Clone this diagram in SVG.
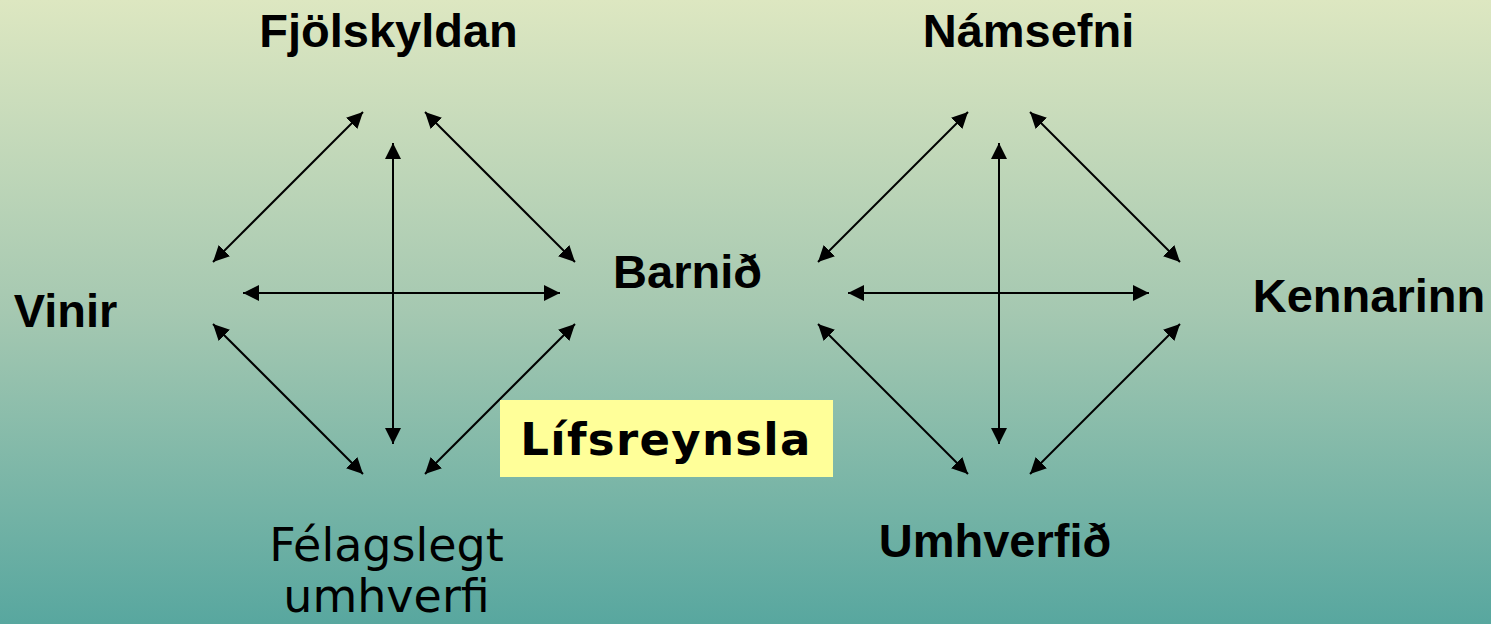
<svg xmlns="http://www.w3.org/2000/svg" width="1491" height="624" viewBox="0 0 1491 624">
  <defs>
    <linearGradient id="bg" x1="0" y1="0" x2="0" y2="1">
      <stop offset="0" stop-color="#dde7c1"/>
      <stop offset="0.5" stop-color="#a5c8b1"/>
      <stop offset="1" stop-color="#58a79f"/>
    </linearGradient>
    <marker id="ah" markerUnits="userSpaceOnUse" markerWidth="16" markerHeight="16" refX="16" refY="8" orient="auto-start-reverse" viewBox="0 0 16 16">
      <path d="M0,0 L16,8 L0,16 z" fill="#000"/>
    </marker>
  </defs>
  <style>
    .lbl { font-family: "Liberation Sans", Arial, sans-serif; font-weight: bold; font-size: 47px; fill: #000; text-anchor: middle; }
    .soc { font-family: "DejaVu Sans", Verdana, sans-serif; font-size: 46px; fill: #000; text-anchor: middle; }
    .life { font-family: "DejaVu Sans", Verdana, sans-serif; font-weight: bold; font-size: 45px; letter-spacing: 1.3px; fill: #000; text-anchor: middle; }
    .c { stroke: #000; stroke-width: 2; fill: none; marker-start: url(#ah); marker-end: url(#ah); }
  </style>
  <rect x="0" y="0" width="1491" height="624" fill="url(#bg)"/>

  <g id="connectors">
    <line class="c" x1="213" y1="262" x2="363" y2="112"/>
    <line class="c" x1="425" y1="112" x2="575" y2="262"/>
    <line class="c" x1="393" y1="143" x2="393" y2="444"/>
    <line class="c" x1="243" y1="293" x2="560" y2="293"/>
    <line class="c" x1="213" y1="324" x2="363" y2="474"/>
    <line class="c" x1="575" y1="324" x2="425" y2="474"/>

    <line class="c" x1="818" y1="262" x2="968" y2="112"/>
    <line class="c" x1="1030" y1="112" x2="1180" y2="262"/>
    <line class="c" x1="999" y1="143" x2="999" y2="444"/>
    <line class="c" x1="848" y1="293" x2="1149" y2="293"/>
    <line class="c" x1="818" y1="324" x2="968" y2="474"/>
    <line class="c" x1="1180" y1="324" x2="1030" y2="474"/>
  </g>

  <g id="fjolskyldan"><text class="lbl" x="388.5" y="47">Fjölskyldan</text></g>
  <g id="vinir"><text class="lbl" x="65.5" y="327">Vinir</text></g>
  <g id="barnid"><text class="lbl" x="687.5" y="288">Barnið</text></g>
  <g id="felagslegt"><text class="soc" x="386.5" y="561">Félagslegt</text><text class="soc" x="386.5" y="612">umhverfi</text></g>
  <g id="lifsreynsla">
    <rect x="500" y="400" width="333" height="77" fill="#ffff99"/>
    <text class="life" x="666" y="455">Lífsreynsla</text>
  </g>
  <g id="namsefni"><text class="lbl" x="1028.5" y="47">Námsefni</text></g>
  <g id="kennarinn"><text class="lbl" x="1369" y="312">Kennarinn</text></g>
  <g id="umhverfid"><text class="lbl" x="995" y="557">Umhverfið</text></g>
</svg>
